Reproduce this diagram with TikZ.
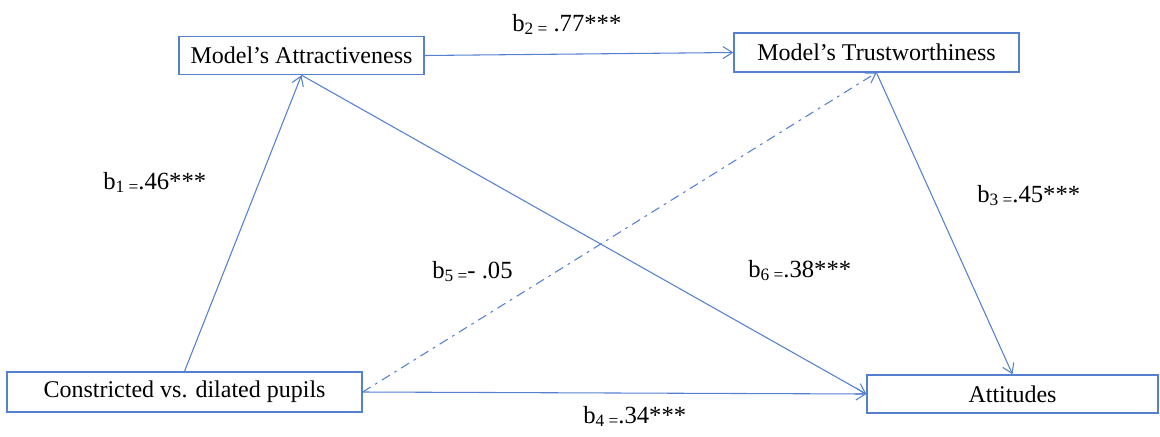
\documentclass[tikz,border=0pt]{standalone}
\usepackage{fontspec}
\setmainfont{Liberation Serif}
\usetikzlibrary{arrows.meta}
\definecolor{lineblue}{HTML}{5580D0}
\newcommand{\coefsub}[1]{\raisebox{-0.3ex}{\fontsize{13}{14}\selectfont #1}}
\tikzset{
  box/.style={draw=lineblue, line width=1pt, fill=white, inner sep=0pt, font=\fontsize{18}{20}\selectfont},
  conn/.style={draw=lineblue, line width=0.8pt, -{Straight Barb[length=7pt,width=9pt]}},
  dashdot/.style={dash pattern=on 7pt off 4pt on 2pt off 4pt},
  coef/.style={anchor=base west, inner sep=0pt, font=\fontsize{18.5}{20}\selectfont}
}
\begin{document}
\begin{tikzpicture}[x=0.75pt,y=-0.75pt]
\useasboundingbox (0,0) rectangle (1160,436);
\node[box, minimum width=245*0.75pt, minimum height=38*0.75pt] (attr) at (301.5,55.5) {Model’s Attractiveness};
\node[box, minimum width=285*0.75pt, minimum height=39*0.75pt] (trust) at (876.5,52.5) {Model’s Trustworthiness};
\node[box, minimum width=355*0.75pt, minimum height=40*0.75pt] (cons) at (184.5,392) {Constricted vs. dilated pupils};
\node[box, minimum width=291*0.75pt, minimum height=38*0.75pt] (att) at (1012.5,394) {Attitudes};

\draw[conn] (cons.north) -- (attr.south);
\draw[conn] (attr.east) -- (trust.west);
\draw[conn] (attr.south) -- (att.west);
\draw[conn] (cons.east) -- (att.west);
\draw[conn, dashdot] (cons.east) -- (trust.south);
\draw[conn] (trust.south) -- (att.north);

\node[coef] (b1) at (103,189) {b\coefsub{1 =}.46***};
\node[coef] (b2) at (512,31) {b\coefsub{2 =} .77***};
\node[coef] (b3) at (977,202) {b\coefsub{3 =}.45***};
\node[coef] (b5) at (432,278) {b\coefsub{5 =}- .05};
\node[coef] (b6) at (748,277) {b\coefsub{6 =}.38***};
\node[coef] (b4) at (583,423) {b\coefsub{4 =}.34***};
\end{tikzpicture}
\end{document}
